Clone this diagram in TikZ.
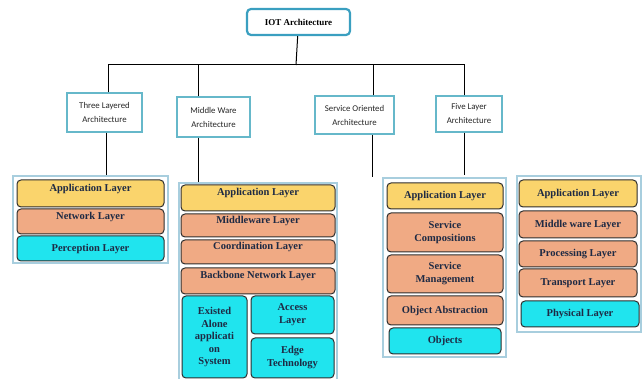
\documentclass[tikz,border=0pt]{standalone}
\usepackage{fontspec}
\usepackage{xcolor}
\setmainfont{Liberation Serif}
\newfontfamily\carlito{Carlito}
\definecolor{rootc}{HTML}{3A9FC0}
\definecolor{hdrc}{HTML}{66B8CA}
\definecolor{boxc}{HTML}{A8CEDE}
\definecolor{laydraw}{HTML}{2E2E2E}
\definecolor{laytext}{HTML}{1E2A44}
\definecolor{appc}{HTML}{FAD46C}
\definecolor{midc}{HTML}{F0AA84}
\definecolor{phyc}{HTML}{20E4EE}
\begin{document}
\begin{tikzpicture}[x=1pt, y=-1pt,
	root/.style={draw=rootc, line width=2.2pt, rounded corners=4pt, fill=white, inner sep=0pt, font=\bfseries\fontsize{9}{10}\selectfont},
	hdr/.style={draw=hdrc, line width=1.4pt, fill=white, inner sep=0pt, align=center, text=black!85, font=\carlito\fontsize{8.8}{14}\selectfont},
	frame/.style={draw=boxc, line width=1.2pt, fill=white, inner sep=0pt},
	layer/.style={draw=laydraw, line width=1pt, rounded corners=4pt, inner sep=0pt, align=center, text=laytext, font=\bfseries\fontsize{10.5}{13}\selectfont},
	app/.style={layer, fill=appc},
	mid/.style={layer, fill=midc},
	phy/.style={layer, fill=phyc},
	up/.style={text depth=12pt},
	link/.style={black, line width=1pt}]
	\useasboundingbox (0,0) rectangle (643,379);
	
	%Root
	\node[root, minimum width=103pt, minimum height=26pt] (root) at (298.5,22) {IOT Architecture};
	\coordinate (bus) at (296,65);
	
	%Architectures
	\node[hdr, minimum width=75pt, minimum height=39pt] (three) at (104.5,112.5) {Three Layered\\Architecture};
	\node[hdr, minimum width=73pt, minimum height=40pt] (mw) at (213.5,117) {Middle Ware\\Architecture};
	\node[hdr, minimum width=79pt, minimum height=38pt] (soa) at (354.5,115) {Service Oriented\\Architecture};
	\node[hdr, minimum width=66pt, minimum height=36pt] (five) at (469,114) {Five Layer\\Architecture};
	
	%Frames
	\node[frame, minimum width=155pt, minimum height=87pt] (tlc) at (90.5,219.5) {};
	\node[frame, minimum width=158pt, minimum height=198pt] (mwc) at (258,282) {};
	\node[frame, minimum width=123pt, minimum height=179pt] (soc) at (444.5,267.5) {};
	\node[frame, minimum width=124pt, minimum height=156pt] (fvc) at (579,254) {};
	
	%Links
	\draw[link] (root) -- (bus);
	\draw[link] ([xshift=3.5pt]three.north) |- (bus);
	\draw[link] ([xshift=-15.5pt]mw.north) |- (bus);
	\draw[link] ([xshift=18.5pt]soa.north) |- (bus);
	\draw[link] ([xshift=-5pt]five.north) |- (bus);
	\draw[link] ([xshift=1.5pt]three.south) -- ([xshift=1.5pt]three.south |- tlc.north);
	\draw[link] ([xshift=-15.5pt]mw.south) -- ([xshift=-15.5pt]mw.south |- mwc.north);
	\draw[link] ([xshift=17.5pt]soa.south) -- ([xshift=17.5pt]soa.south |- soc.north);
	\draw[link] ([xshift=-5pt]five.south) -- ([xshift=-5pt]five.south |- fvc.north);
	
	%Three layered
	\node[app, up, minimum width=147pt, minimum height=27pt] (tl-app) at (90.5,193.5) {Application Layer};
	\node[mid, up, minimum width=147pt, minimum height=25pt] (tl-net) at (90.5,221.5) {Network Layer};
	\node[phy, minimum width=147pt, minimum height=25pt] (tl-per) at (90.5,248.5) {Perception Layer};
	
	%Middle ware
	\node[app, up, minimum width=154pt, minimum height=26pt] (mw-app) at (258,198) {Application Layer};
	\node[mid, up, minimum width=154pt, minimum height=23pt] (mw-mid) at (258,225.5) {Middleware Layer};
	\node[mid, up, minimum width=154pt, minimum height=24pt] (mw-crd) at (258,252) {Coordination Layer};
	\node[mid, up, minimum width=154pt, minimum height=26pt] (mw-bbn) at (258,281) {Backbone Network Layer};
	\node[phy, minimum width=65pt, minimum height=82pt, font=\bfseries\fontsize{10.5}{12.5}\selectfont] (mw-ext) at (214.5,337) {Existed\\Alone\\applicati\\on\\System};
	\node[phy, minimum width=83pt, minimum height=38pt] (mw-acc) at (292.5,315) {Access\\Layer};
	\node[phy, minimum width=83pt, minimum height=40pt] (mw-edg) at (292.5,358) {Edge\\Technology};
	
	%Service oriented
	\node[app, minimum width=116pt, minimum height=26pt] (so-app) at (445,196) {Application Layer};
	\node[mid, minimum width=116pt, minimum height=39pt] (so-cmp) at (445,232.5) {Service\\Compositions};
	\node[mid, minimum width=116pt, minimum height=38pt] (so-mgt) at (445,274) {Service\\Management};
	\node[mid, minimum width=116pt, minimum height=29pt] (so-abs) at (445,310.5) {Object Abstraction};
	\node[phy, minimum width=112pt, minimum height=26pt] (so-obj) at (445,341) {Objects};
	
	%Five layer
	\node[app, minimum width=118pt, minimum height=27pt] (fl-app) at (578,193.5) {Application Layer};
	\node[mid, minimum width=118pt, minimum height=27pt] (fl-mid) at (578,224.5) {Middle ware Layer};
	\node[mid, minimum width=118pt, minimum height=26pt] (fl-prc) at (578,254) {Processing Layer};
	\node[mid, minimum width=118pt, minimum height=28pt] (fl-trn) at (578,283) {Transport Layer};
	\node[phy, minimum width=118pt, minimum height=26pt] (fl-phy) at (580,314) {Physical Layer};
\end{tikzpicture}
\end{document}
